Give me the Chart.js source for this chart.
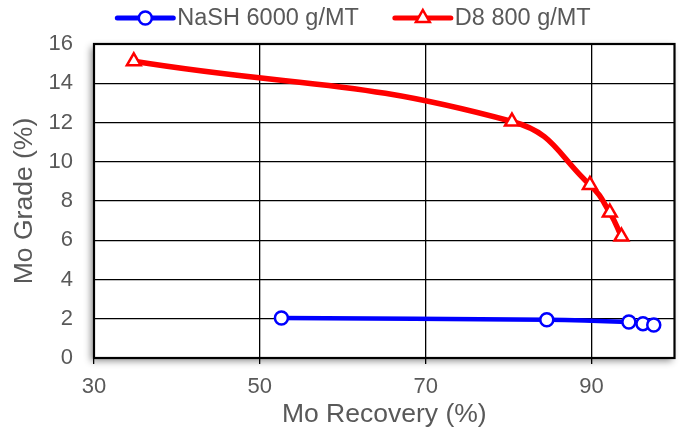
<!DOCTYPE html>
<html>
<head>
<meta charset="utf-8">
<script src="https://cdn.jsdelivr.net/npm/chart.js@4"></script>
<style>
  html, body { margin: 0; padding: 0; background: #fff; }
  #wrap { width: 685px; height: 440px; }
</style>
</head>
<body>
<div id="wrap"><canvas id="c" width="685" height="440"></canvas></div>
<script>
// ---- data ----
const seriesLabels = ['NaSH 6000 g/MT', 'D8 800 g/MT'];
const nashRecovery = [52.6, 84.6, 94.5, 96.2, 97.5];
const nashGrade    = [2.04, 1.95, 1.83, 1.75, 1.68];
const d8Recovery   = [34.8, 80.4, 89.8, 92.2, 93.6];
const d8Grade      = [15.12, 12.05, 8.82, 7.41, 6.19];
const xTicks = [30, 50, 70, 90];
const xRange = [30, 100];
const yRange = [0, 16];
const yStep = 2;
const xTitle = 'Mo Recovery (%)';
const yTitle = 'Mo Grade (%)';

const FONT = "'Liberation Sans', Arial, sans-serif";
const GRAY = '#595959';

function pts(xs, ys) { return xs.map((x, i) => ({ x: x, y: ys[i] })); }

const shadowPlugin = {
  id: 'plotShadow',
  beforeDraw(chart) {
    const a = chart.chartArea, ctx = chart.ctx;
    ctx.save();
    ctx.shadowColor = 'rgba(0,0,0,0.45)';
    ctx.shadowBlur = 7;
    ctx.shadowOffsetX = -3;
    ctx.shadowOffsetY = 3;
    ctx.fillStyle = '#fff';
    ctx.fillRect(a.left, a.top, a.right - a.left, a.bottom - a.top);
    ctx.restore();
  },
  afterDraw(chart) {
    const a = chart.chartArea, ctx = chart.ctx;
    ctx.save();
    ctx.strokeStyle = '#000';
    ctx.lineWidth = 2.2;
    ctx.strokeRect(a.left, a.top, a.right - a.left, a.bottom - a.top);
    ctx.restore();
  }
};

function drawMarker(ctx, style, x, y, r, color, bw) {
  ctx.beginPath();
  if (style === 'circle') {
    ctx.arc(x, y, r, 0, Math.PI * 2);
  } else {
    for (let k = 0; k < 3; k++) {
      const ang = -Math.PI / 2 + k * 2 * Math.PI / 3;
      const px = x + r * Math.cos(ang), py = y + r * Math.sin(ang);
      if (k === 0) ctx.moveTo(px, py); else ctx.lineTo(px, py);
    }
    ctx.closePath();
  }
  ctx.fillStyle = '#fff';
  ctx.fill();
  ctx.lineWidth = bw;
  ctx.strokeStyle = color;
  ctx.stroke();
}

const legendPlugin = {
  id: 'lineLegend',
  afterDraw(chart) {
    const ctx = chart.ctx;
    const sample = 56, gapText = 4, gapItem = 36, cy = 18, centerX = 354;
    ctx.save();
    ctx.font = '23.5px ' + FONT;
    const items = chart.data.datasets.map(ds => ({
      ds: ds, w: sample + gapText + ctx.measureText(ds.label).width
    }));
    const total = items.reduce((s, it) => s + it.w, 0) + gapItem * (items.length - 1);
    let x = centerX - total / 2;
    items.forEach(it => {
      const ds = it.ds;
      ctx.beginPath();
      ctx.moveTo(x, cy);
      ctx.lineTo(x + sample, cy);
      ctx.lineCap = 'round';
      ctx.lineWidth = 5;
      ctx.strokeStyle = ds.borderColor;
      ctx.stroke();
      drawMarker(ctx, ds.pointStyle, x + sample / 2, cy, ds.pointRadius, ds.borderColor, ds.pointBorderWidth);
      ctx.fillStyle = GRAY;
      ctx.textBaseline = 'middle';
      ctx.textAlign = 'left';
      ctx.fillText(ds.label, x + sample + gapText, cy + 1);
      x += it.w + gapItem;
    });
    ctx.restore();
  }
};

new Chart(document.getElementById('c'), {
  type: 'scatter',
  data: {
    datasets: [
      {
        label: seriesLabels[0],
        data: pts(nashRecovery, nashGrade),
        showLine: true,
        borderColor: '#0000FF',
        borderWidth: 4.5,
        tension: 0.3,
        pointStyle: 'circle',
        pointRadius: 6.5,
        pointBorderWidth: 2.5,
        pointBackgroundColor: '#ffffff',
        pointBorderColor: '#0000FF'
      },
      {
        label: seriesLabels[1],
        data: pts(d8Recovery, d8Grade),
        showLine: true,
        borderColor: '#FF0000',
        borderWidth: 5.5,
        tension: 0.45,
        pointStyle: 'triangle',
        pointRadius: 8,
        pointBorderWidth: 2.5,
        pointBackgroundColor: '#ffffff',
        pointBorderColor: '#FF0000'
      }
    ]
  },
  options: {
    responsive: false,
    animation: false,
    devicePixelRatio: 1,
    layout: { padding: { top: 44, right: 3, left: 0, bottom: 0 } },
    plugins: {
      legend: { display: false },
      tooltip: { enabled: false }
    },
    scales: {
      x: {
        type: 'linear',
        min: xRange[0],
        max: xRange[1],
        afterBuildTicks: s => { s.ticks = xTicks.map(v => ({ value: v })); },
        afterFit: s => { s.height = 82; s.paddingRight = 0; s.paddingLeft = 0; },
        grid: { color: '#000', lineWidth: 1.3, drawTicks: true, tickLength: 6, tickColor: '#000' },
        border: { display: false },
        ticks: { color: GRAY, font: { family: FONT, size: 22 }, padding: 10, maxRotation: 0 },
        title: { display: true, text: xTitle, color: GRAY, font: { family: FONT, size: 26.5 }, padding: { top: 0, bottom: 9 } }
      },
      y: {
        min: yRange[0],
        max: yRange[1],
        afterFit: s => { s.width = 94; },
        grid: { color: '#000', lineWidth: 1.3, drawTicks: false },
        border: { display: false },
        ticks: { stepSize: yStep, color: GRAY, font: { family: FONT, size: 22 }, padding: 21 },
        title: { display: true, text: yTitle, color: GRAY, font: { family: FONT, size: 26.5 }, padding: { top: 9, bottom: 0 } }
      }
    }
  },
  plugins: [shadowPlugin, legendPlugin]
});
</script>
</body>
</html>
